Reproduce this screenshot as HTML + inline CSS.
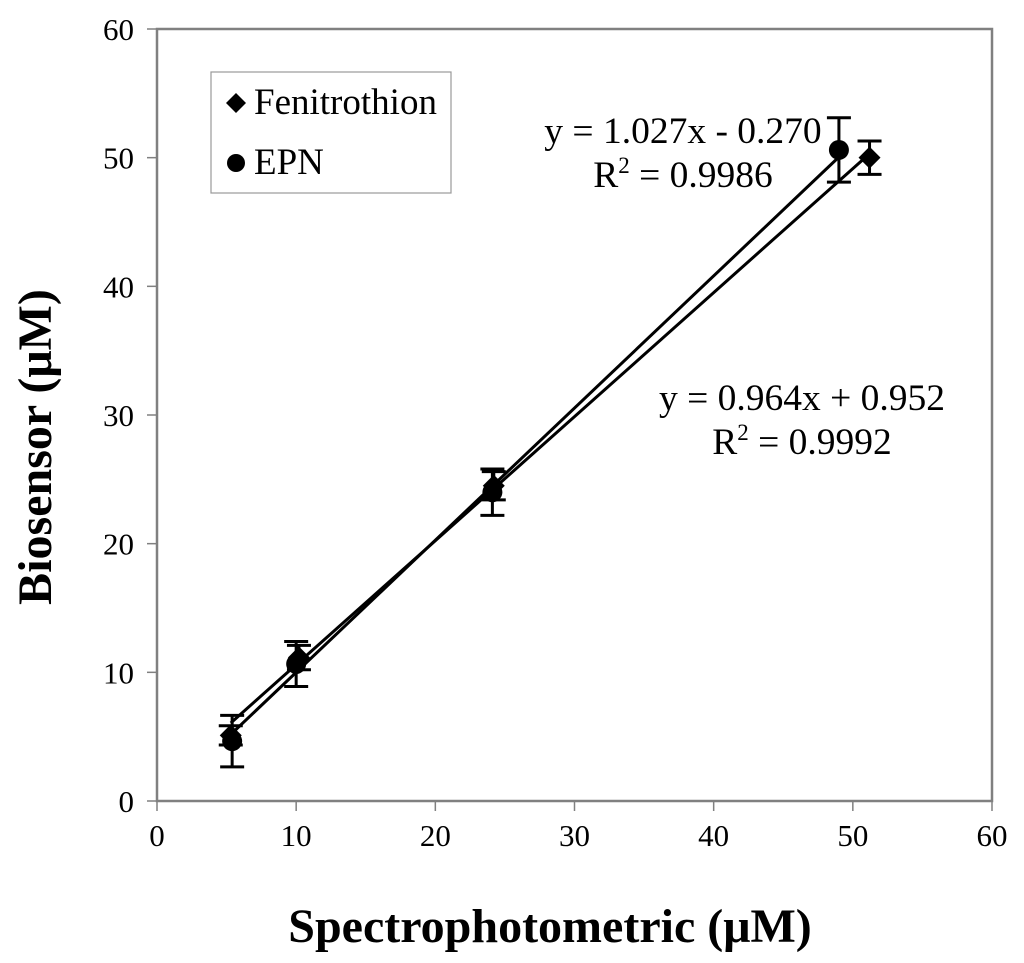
<!DOCTYPE html>
<html><head><meta charset="utf-8"><style>
body{margin:0;background:#fff}
svg{display:block;font-family:"Liberation Serif",serif}
</style></head><body>
<svg id="chart" width="1024" height="963" viewBox="0 0 1024 963">
<rect x="157" y="29" width="835" height="772" fill="#fff" stroke="#808080" stroke-width="2.5"/>
<g id="axes"></g>
<g id="series"></g>
<g>
<rect x="211" y="72" width="240" height="121" fill="#fff" stroke="#999" stroke-width="1.2"/>
<path d="M236 93 L246 103 L236 113 L226 103 Z" fill="#000"/>
<text x="254" y="114" font-size="37">Fenitrothion</text>
<circle cx="236" cy="163" r="9" fill="#000"/>
<text x="254" y="174" font-size="37">EPN</text>
</g>
<text x="683" y="143" font-size="37.5" text-anchor="middle">y = 1.027x - 0.270</text>
<text x="683" y="187" font-size="37.5" text-anchor="middle">R<tspan font-size="23" dy="-14">2</tspan><tspan dy="14"> = 0.9986</tspan></text>
<text x="802" y="410" font-size="37.5" text-anchor="middle">y = 0.964x + 0.952</text>
<text x="802" y="454" font-size="37.5" text-anchor="middle">R<tspan font-size="23" dy="-14">2</tspan><tspan dy="14"> = 0.9992</tspan></text>
<text x="550" y="942" font-size="48" font-weight="bold" text-anchor="middle">Spectrophotometric (μM)</text>
<text transform="translate(51,447) rotate(-90)" font-size="48" font-weight="bold" text-anchor="middle">Biosensor (μM)</text>
</svg>
<script>
const xTicks=[0,10,20,30,40,50,60];
const yTicks=[0,10,20,30,40,50,60];
const fenX=[5.3,10.2,24.2,51.2];
const fenY=[5.1,11.15,24.5,50.0];
const fenErr=[0.75,0.95,1.1,1.3];
const epnX=[5.4,10.0,24.1,49.0];
const epnY=[4.65,10.65,24.0,50.6];
const epnErr=[2.0,1.75,1.8,2.5];
const fenFit=[0.964,0.952];
const epnFit=[1.027,-0.270];
const NS="http://www.w3.org/2000/svg";
const sx=v=>157+v*(835/60), sy=v=>801-v*(772/60);
function mk(tag,attrs,parent){const e=document.createElementNS(NS,tag);for(const k in attrs)e.setAttribute(k,attrs[k]);parent.appendChild(e);return e;}
const axes=document.getElementById('axes'), ser=document.getElementById('series');
xTicks.forEach(t=>{
 const l=mk('line',{x1:sx(t),x2:sx(t),y1:801,y2:811,stroke:'#808080','stroke-width':1.5},axes);
 
 
 const tx=mk('text',{x:sx(t),y:846,'font-size':31,'text-anchor':'middle'},axes);tx.textContent=t;
 
 
});
yTicks.forEach(t=>{
 const l=mk('line',{x1:147,x2:157,y1:sy(t),y2:sy(t),stroke:'#808080','stroke-width':1.5},axes);
 
 
 const tx=mk('text',{x:134,y:sy(t)+11,'font-size':31,'text-anchor':'end'},axes);tx.textContent=t;
 
 
});
function fit(xs,f,name){
 const a=Math.min(...xs),b=Math.max(...xs);
 const l=mk('line',{x1:sx(a),y1:sy(f[0]*a+f[1]),x2:sx(b),y2:sy(f[0]*b+f[1]),stroke:'#000','stroke-width':3},ser);
 
 
}
fit(fenX,fenFit,'fenitrothion-trendline');
fit(epnX,epnFit,'epn-trendline');
function pts(xs,ys,es,kind){
 xs.forEach((x,i)=>{
  const cx=sx(x),cy=sy(ys[i]),t=sy(ys[i]+es[i]),b=sy(ys[i]-es[i]);
  const g=mk('g',{},ser);
  
  
  mk('path',{d:`M${cx} ${t}V${b}M${cx-12} ${t}H${cx+12}M${cx-12} ${b}H${cx+12}`,stroke:'#000','stroke-width':3,fill:'none'},g);
  if(kind==='epn') mk('circle',{cx,cy,r:10,fill:'#000'},g);
  else mk('path',{d:`M${cx} ${cy-11}L${cx+11} ${cy}L${cx} ${cy+11}L${cx-11} ${cy}Z`,fill:'#000'},g);
 });
}
pts(fenX,fenY,fenErr,'fenitrothion');
pts(epnX,epnY,epnErr,'epn');
</script>
</body></html>
